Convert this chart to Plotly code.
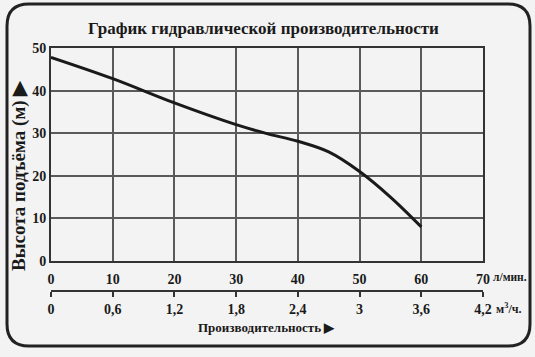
import plotly.graph_objects as go

# Data
flow_lpm = [0, 10, 20, 30, 35, 40, 45, 50, 55, 60]
head_m = [47.8, 42.8, 37.1, 32.0, 29.9, 28.1, 25.6, 21.0, 15.0, 8.0]

x_ticks = [0, 10, 20, 30, 40, 50, 60, 70]
x_ticklabels = ["0", "10", "20", "30", "40", "50", "60", "70"]
y_ticks = [0, 10, 20, 30, 40, 50]
m3_ticks = [0, 0.6, 1.2, 1.8, 2.4, 3.0, 3.6, 4.2]
m3_ticklabels = ["0", "0,6", "1,2", "1,8", "2,4", "3", "3,6", "4,2"]

title_text = "График гидравлической производительности"
y_title = "Высота подъёма (м) ▶"
x_title = "Производительность ▶"
unit1 = "л/мин."
unit2 = "м<sup>3</sup>/ч."

FONT = "Liberation Serif"
INK = "#1a1a1a"
GRID = "#5a5a5a"
BG = "#f3f3f3"

fig = go.Figure()
fig.add_trace(go.Scatter(
    x=flow_lpm, y=head_m, mode="lines",
    line=dict(color=INK, width=3, shape="spline", smoothing=1.0),
    hoverinfo="skip", showlegend=False, xaxis="x", yaxis="y"))
fig.add_trace(go.Scatter(x=[m3_ticks[0], m3_ticks[-1]], y=[None, None], mode="lines",
                         xaxis="x2", yaxis="y", showlegend=False, hoverinfo="skip"))

W, H = 535, 357
ml, mr, mt, mb = 51, 52, 48, 10
ph = H - mt - mb
dom_bottom = (H - mb - 261) / ph
x2_pos = (H - mb - 291) / ph

tickfont = dict(family=FONT, size=14, color=INK, weight="bold")

fig.update_layout(
    width=W, height=H,
    margin=dict(l=ml, r=mr, t=mt, b=mb, autoexpand=False),
    paper_bgcolor=BG, plot_bgcolor=BG,
    font=dict(family=FONT, color=INK),
    xaxis=dict(range=[0, 70], tickvals=x_ticks, ticktext=x_ticklabels,
               showgrid=True, gridcolor=GRID, gridwidth=2,
               showline=True, linecolor="#333", linewidth=2, mirror=True,
               ticks="", tickfont=tickfont, automargin=False, ticklabelstandoff=4,
               zeroline=False, anchor="y", fixedrange=True),
    yaxis=dict(range=[0, 50], tickvals=y_ticks, domain=[dom_bottom, 1],
               showgrid=True, gridcolor=GRID, gridwidth=2,
               showline=True, linecolor="#333", linewidth=2, mirror=True,
               ticks="", tickfont=tickfont, automargin=False,
               zeroline=False, fixedrange=True),
    xaxis2=dict(range=[0, 4.2], tickvals=m3_ticks, ticktext=m3_ticklabels,
                overlaying="x", anchor="free", position=x2_pos, side="bottom",
                showline=True, linecolor="#333", linewidth=2,
                ticks="outside", ticklen=5, tickwidth=2, tickcolor="#333",
                showgrid=False, zeroline=False, automargin=False,
                tickfont=tickfont, fixedrange=True),
)


def px_x(p):
    return (p - ml) / (W - ml - mr)


def px_y(p):
    return (H - mb - p) / ph


x0, x1, y0, y1 = 7, 530, 4, 346
r = 22
path = (f"M {px_x(x0+r)} {px_y(y0)} L {px_x(x1-r)} {px_y(y0)} "
        f"Q {px_x(x1)} {px_y(y0)} {px_x(x1)} {px_y(y0+r)} "
        f"L {px_x(x1)} {px_y(y1-r)} Q {px_x(x1)} {px_y(y1)} {px_x(x1-r)} {px_y(y1)} "
        f"L {px_x(x0+r)} {px_y(y1)} Q {px_x(x0)} {px_y(y1)} {px_x(x0)} {px_y(y1-r)} "
        f"L {px_x(x0)} {px_y(y0+r)} Q {px_x(x0)} {px_y(y0)} {px_x(x0+r)} {px_y(y0)} Z")
fig.add_shape(type="path", path=path, xref="paper", yref="paper",
              line=dict(color="#222", width=3), layer="below")


def label(text, x, y, size, anchor="center", angle=0, bold=True):
    fig.add_annotation(text=text, xref="paper", yref="paper",
                       x=px_x(x), y=px_y(y), showarrow=False,
                       xanchor=anchor, yanchor="middle", textangle=angle,
                       font=dict(family=FONT, size=size, color=INK,
                                 weight="bold" if bold else "normal"))


label(title_text, 263, 28, 17)
label(y_title, 19, 176, 19, angle=-90)
label(x_title, 266, 327, 13)
label(unit1, 491, 277, 11.5, anchor="left")
label(unit2, 494, 308, 12, anchor="left")

fig.write_html("out.html")
